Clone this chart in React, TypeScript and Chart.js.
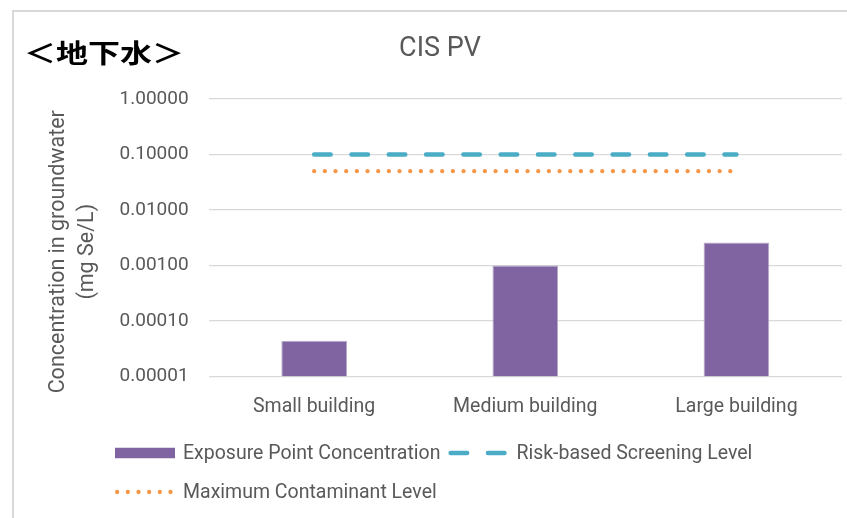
import React, { useEffect, useRef } from "react";
import { Chart, registerables } from "chart.js";

Chart.register(...registerables);

const categories = ["Small building", "Medium building", "Large building"];
const epcValues = [0.000044, 0.001, 0.0026];
const rslValues = [0.1, 0.1, 0.1];
const mclValues = [0.05, 0.05, 0.05];
const yTickValues = [0.00001, 0.0001, 0.001, 0.01, 0.1, 1];
const yTickLabels = ["0.00001", "0.00010", "0.00100", "0.01000", "0.10000", "1.00000"];
const seriesNames = [
  "Exposure Point Concentration",
  "Risk-based Screening Level",
  "Maximum Contaminant Level",
];
const chartTitle = "CIS PV";
const yAxisTitle = ["Concentration in groundwater", "(mg Se/L)"];
const pageLabel = "＜地下水＞";

const FONT = "Roboto";
const GRAY = "#595959";

const yTitlePlugin = {
  id: "yTitleLines",
  afterDraw(chart: any) {
    const { ctx, chartArea } = chart;
    const cy = (chartArea.top + chartArea.bottom) / 2 + 14;
    const xs = [46, 75];
    ctx.save();
    ctx.font = `21.5px ${FONT}`;
    ctx.fillStyle = GRAY;
    ctx.textAlign = "center";
    ctx.textBaseline = "middle";
    yAxisTitle.forEach((line, i) => {
      ctx.save();
      ctx.translate(xs[i], cy);
      ctx.rotate(-Math.PI / 2);
      ctx.fillText(line, 0, 0);
      ctx.restore();
    });
    ctx.restore();
  },
};

const legendPlugin = {
  id: "sketchLegend",
  afterDraw(chart: any) {
    const { ctx } = chart;
    const left = 102;
    const rowYs = [443, 482];
    const symW = 60;
    const gapText = 8;
    const gapItem = 8;
    const maxRow = 680;
    ctx.save();
    ctx.font = `19.5px ${FONT}`;
    ctx.textBaseline = "middle";
    ctx.textAlign = "left";
    let x = left;
    let row = 0;
    chart.data.datasets.forEach((ds: any) => {
      const tw = ctx.measureText(ds.label).width;
      const w = symW + gapText + tw;
      if (x > left && x + w - left > maxRow) {
        row++;
        x = left;
      }
      const y = rowYs[row];
      if (ds.type === "bar") {
        ctx.fillStyle = ds.backgroundColor;
        ctx.fillRect(x, y - 5.25, symW, 10.5);
      } else {
        const lw = ds.borderWidth;
        ctx.save();
        ctx.strokeStyle = ds.borderColor;
        ctx.lineWidth = lw;
        ctx.lineCap = "round";
        ctx.setLineDash(ds.borderDash || []);
        ctx.beginPath();
        ctx.moveTo(x + lw / 2, y);
        ctx.lineTo(x + symW - lw / 2, y);
        ctx.stroke();
        ctx.restore();
      }
      ctx.fillStyle = GRAY;
      ctx.fillText(ds.label, x + symW + gapText, y + 1);
      x += w + gapItem;
    });
    ctx.restore();
  },
};

export default function App() {
  const ref = useRef<HTMLCanvasElement | null>(null);

  useEffect(() => {
    if (!ref.current) return;
    const chart = new Chart(ref.current, {
      type: "bar",
      data: {
        labels: categories,
        datasets: [
          {
            type: "bar",
            label: seriesNames[0],
            data: epcValues,
            backgroundColor: "#8064A2",
            borderColor: "#b7aacb",
            borderWidth: 1,
            barPercentage: 0.311,
            categoryPercentage: 1,
            order: 3,
          },
          {
            type: "line",
            label: seriesNames[1],
            data: rslValues,
            borderColor: "#4BACC6",
            borderWidth: 4.5,
            borderDash: [16.5, 20.8],
            borderCapStyle: "round",
            pointRadius: 0,
            fill: false,
            tension: 0,
            order: 1,
          },
          {
            type: "line",
            label: seriesNames[2],
            data: mclValues,
            borderColor: "#F79646",
            borderWidth: 4.3,
            borderDash: [0, 10.67],
            borderCapStyle: "round",
            pointRadius: 0,
            fill: false,
            tension: 0,
            order: 2,
          },
        ] as any,
      },
      options: {
        responsive: false,
        animation: false,
        devicePixelRatio: 1,
        layout: { padding: { left: 25, right: 25, top: 0, bottom: 81.5 } },
        plugins: {
          legend: { display: false },
          tooltip: { enabled: false },
          title: {
            display: true,
            text: chartTitle,
            color: GRAY,
            font: { family: FONT, size: 27, weight: "normal" },
            padding: { top: 22.8, bottom: 33.8 },
          },
        },
        scales: {
          x: {
            type: "category",
            offset: true,
            grid: { display: false },
            border: { display: false },
            ticks: {
              color: GRAY,
              font: { family: FONT, size: 19.5 },
              padding: 11,
              maxRotation: 0,
              autoSkip: false,
            },
            afterFit: (s: any) => {
              s.height = 60;
            },
          },
          y: {
            type: "logarithmic",
            min: yTickValues[0],
            max: yTickValues[yTickValues.length - 1],
            afterBuildTicks: (axis: any) => {
              axis.ticks = yTickValues.map((v) => ({ value: v }));
            },
            ticks: {
              callback: (_v: any, i: number) => yTickLabels[i],
              color: GRAY,
              font: { family: FONT, size: 19 },
              padding: 20,
              autoSkip: false,
            },
            grid: { color: "#d9d9d9", lineWidth: 1.3, drawTicks: false },
            border: { display: false },
            afterFit: (s: any) => {
              s.width = 170.6;
            },
          },
        },
      } as any,
      plugins: [yTitlePlugin, legendPlugin],
    });
    return () => chart.destroy();
  }, []);

  return (
    <div
      style={{
        position: "fixed",
        left: 0,
        top: 0,
        width: 847,
        height: 518,
        overflow: "hidden",
        background: "#fff",
      }}
    >
      <div
        style={{
          position: "absolute",
          left: 12,
          top: 10,
          width: 900,
          height: 600,
          borderLeft: "2px solid #d9d9d9",
          borderTop: "2px solid #d9d9d9",
          boxSizing: "border-box",
        }}
      />
      <canvas
        ref={ref}
        width={854}
        height={508}
        style={{ position: "absolute", left: 13, top: 10, width: 854, height: 508 }}
      />
      <div
        style={{
          position: "absolute",
          left: 24,
          top: 37,
          fontFamily: "'Noto Sans CJK JP', sans-serif",
          fontWeight: 700,
          fontSize: 26,
          lineHeight: "30px",
          transform: "scaleX(1.23)",
          transformOrigin: "left top",
          color: "#000",
          whiteSpace: "nowrap",
        }}
      >
        {pageLabel}
      </div>
    </div>
  );
}
